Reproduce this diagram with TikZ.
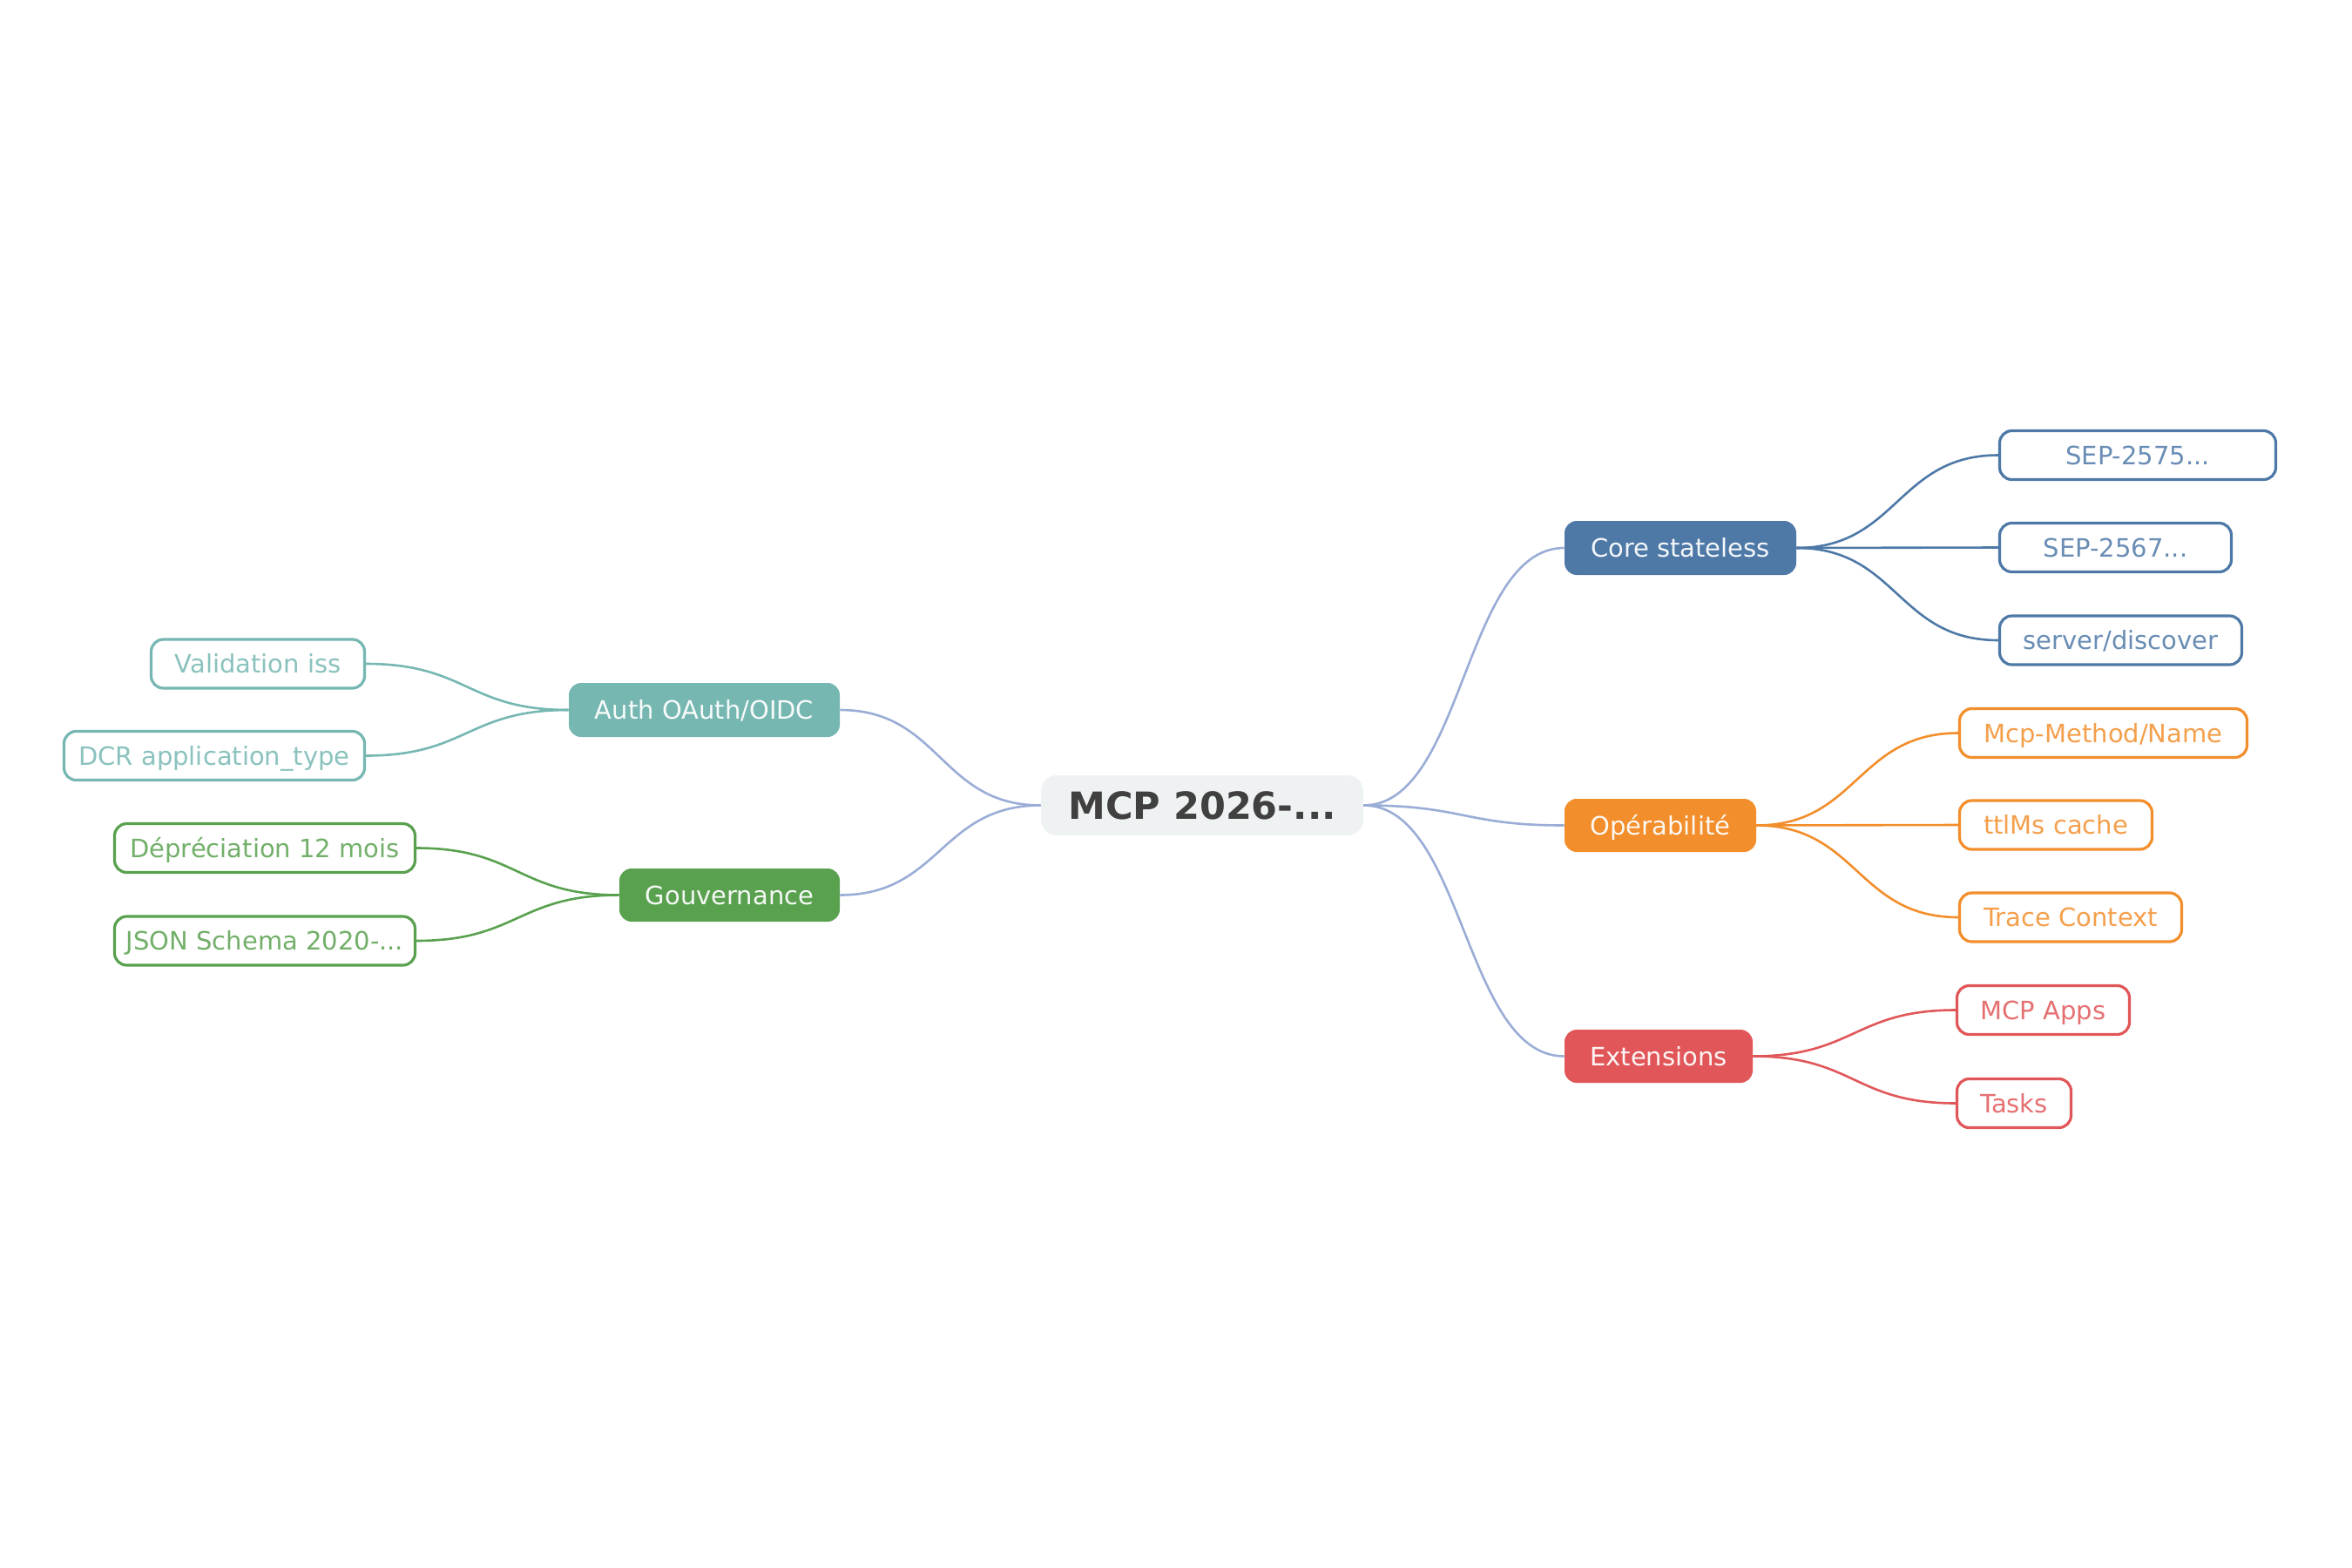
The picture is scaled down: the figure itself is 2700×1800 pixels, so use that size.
\documentclass[tikz,border=0pt]{standalone}
\usepackage{fontspec}
\setmainfont{DejaVu Sans}
\usetikzlibrary{calc}
\definecolor{cblue}{HTML}{4E79A7}
\definecolor{corange}{HTML}{F28E2B}
\definecolor{cred}{HTML}{E15759}
\definecolor{cteal}{HTML}{76B7B2}
\definecolor{cgreen}{HTML}{59A14F}
\definecolor{rootfill}{HTML}{EFF2F3}
\definecolor{roottext}{HTML}{404040}
\definecolor{rootedge}{HTML}{9AADD6}
\begin{document}
\begin{tikzpicture}[x=0.5pt,y=-0.5pt,
  link/.style={to path={let \p1=(\tikztostart), \p2=(\tikztotarget) in
     .. controls ({0.5*\x1+0.5*\x2},\y1) and ({0.5*\x1+0.5*\x2},\y2) .. (\tikztotarget)}},
  rootnode/.style={fill=rootfill, text=roottext, rounded corners=9pt,
     font=\fontsize{21.5}{26}\selectfont\bfseries, minimum width=185pt,
     minimum height=34.5pt, inner sep=0pt, text height=15.7pt, text depth=0pt},
  branch/.style={fill=#1, text=white!94!#1, rounded corners=7pt,
     font=\fontsize{14.5}{17}\selectfont, inner sep=0pt,
     text height=10.6pt, text depth=0pt},
  leaf/.style={draw=#1, fill=white, line width=1.6pt, text=#1!85!white,
     rounded corners=7pt, font=\fontsize{14.5}{17}\selectfont,
     minimum height=28pt, inner sep=0pt, text height=10.6pt, text depth=0pt},
  rootlink/.style={draw=rootedge, line width=1.3pt},
  leaflink/.style={draw=#1, line width=1.3pt}
]
\useasboundingbox (0,0) rectangle (2700,1800);

% root
\node[rootnode] (root) at (1380,924.5) {MCP 2026-...};

% branches
\node[branch=cblue,   minimum width=133pt,   minimum height=31pt]   (core) at (1929,629)    {Core stateless};
\node[branch=corange, minimum width=110pt,   minimum height=30.5pt] (oper) at (1906,947.5)  {Opérabilité};
\node[branch=cred,    minimum width=108pt,   minimum height=30.5pt] (ext)  at (1904,1212.5) {Extensions};
\node[branch=cteal,   minimum width=155.5pt, minimum height=31pt]   (auth) at (808.5,815)   {Auth OAuth/OIDC};
\node[branch=cgreen,  minimum width=126.5pt, minimum height=30.5pt] (gouv) at (837.5,1027.5){Gouvernance};

% leaves: blue
\node[leaf=cblue, minimum width=158.5pt] (sepa) at (2454,522.5)  {SEP-2575...};
\node[leaf=cblue, minimum width=133pt]   (sepb) at (2428.5,628.5){SEP-2567...};
\node[leaf=cblue, minimum width=139pt]   (disc) at (2434.5,735)  {server/discover};
% leaves: orange
\node[leaf=corange, minimum width=165pt]   (meth)  at (2414.5,841.5) {Mcp-Method/Name};
\node[leaf=corange, minimum width=110.5pt] (ttl)   at (2360,947)     {ttlMs cache};
\node[leaf=corange, minimum width=127.5pt] (trace) at (2377,1053)    {Trace Context};
% leaves: red
\node[leaf=cred, minimum width=99pt]   (apps)  at (2345.5,1159.5) {MCP Apps};
\node[leaf=cred, minimum width=65.5pt] (tasks) at (2312,1266.5)   {Tasks};
% leaves: teal
\node[leaf=cteal, minimum width=122.5pt] (valid) at (296,762)   {Validation iss};
\node[leaf=cteal, minimum width=172.5pt] (dcr)   at (246,867.5) {DCR application\_type};
% leaves: green
\node[leaf=cgreen, minimum width=172.5pt] (depr) at (304,973.5) {Dépréciation 12 mois};
\node[leaf=cgreen, minimum width=172.5pt] (json) at (304,1080)  {JSON Schema 2020-...};

% root links
\draw[rootlink] (root.east) to[link] (core.west);
\draw[rootlink] (root.east) to[link] (oper.west);
\draw[rootlink] (root.east) to[link] (ext.west);
\draw[rootlink] (root.west) to[link] (auth.east);
\draw[rootlink] (root.west) to[link] (gouv.east);

% leaf links
\draw[leaflink=cblue] (core.east) to[link] (sepa.west);
\draw[leaflink=cblue] (core.east) to[link] (sepb.west);
\draw[leaflink=cblue] (core.east) to[link] (disc.west);
\draw[leaflink=corange] (oper.east) to[link] (meth.west);
\draw[leaflink=corange] (oper.east) to[link] (ttl.west);
\draw[leaflink=corange] (oper.east) to[link] (trace.west);
\draw[leaflink=cred] (ext.east) to[link] (apps.west);
\draw[leaflink=cred] (ext.east) to[link] (tasks.west);
\draw[leaflink=cteal] (auth.west) to[link] (valid.east);
\draw[leaflink=cteal] (auth.west) to[link] (dcr.east);
\draw[leaflink=cgreen] (gouv.west) to[link] (depr.east);
\draw[leaflink=cgreen] (gouv.west) to[link] (json.east);
\end{tikzpicture}
\end{document}
